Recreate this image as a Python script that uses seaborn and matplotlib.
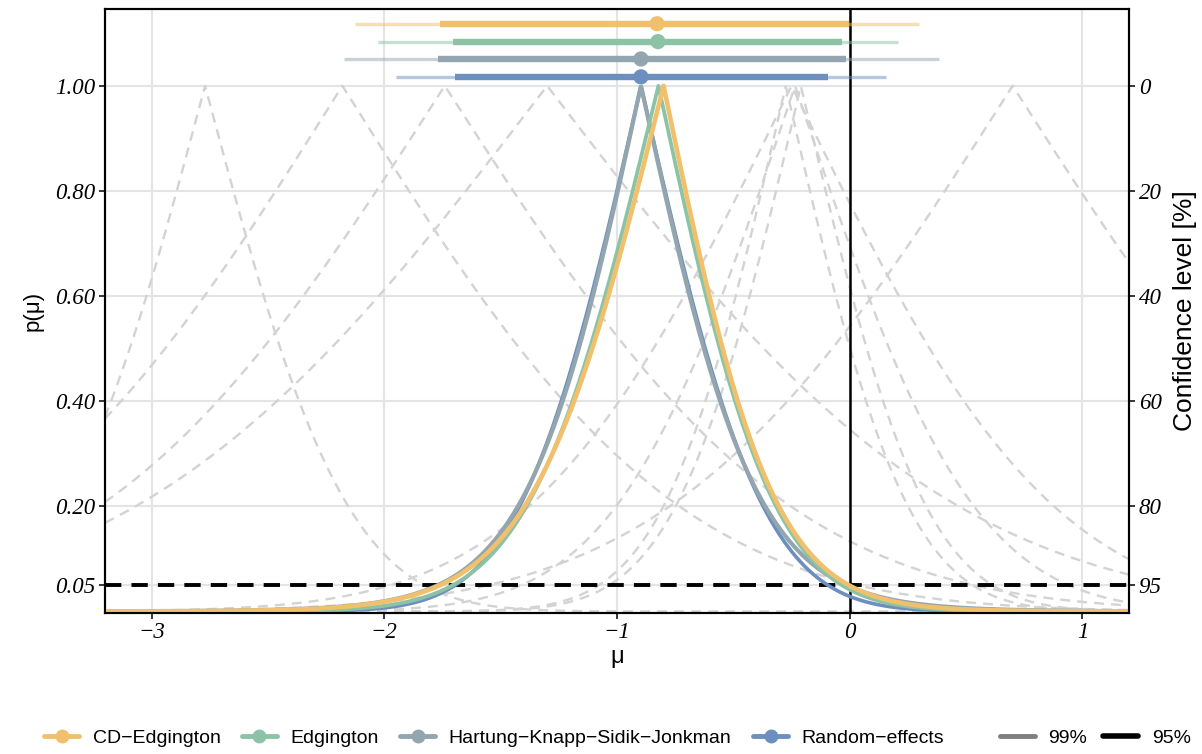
import math
import numpy as np
import pandas as pd
import matplotlib
matplotlib.use("Agg")
import matplotlib.pyplot as plt
import seaborn as sns
from matplotlib.lines import Line2D

# ---------------- data ----------------
# individual studies: point estimate and standard error
study_est = [-2.77, -2.18, -1.74, -1.30, -0.275, -0.25, -0.235, -0.21, 0.70]
study_se = [0.48, 1.13, 1.16, 1.38, 0.41, 0.88, 0.60, 0.42, 1.15]

# combined methods
methods = ["CD\u2212Edgington", "Edgington",
           "Hartung\u2212Knapp\u2212Sidik\u2212Jonkman", "Random\u2212effects"]
peak = [-0.800, -0.822, -0.897, -0.897]       # where p(mu) = 1
point = [-0.828, -0.824, -0.897, -0.897]      # dot on the interval row
lower95 = [-1.760, -1.706, -1.770, -1.695]
upper95 = [-0.004, -0.034, -0.015, -0.094]
lower99 = [-2.124, -2.026, -2.172, -1.948]
upper99 = [0.296, 0.206, 0.382, 0.157]
tail_df = [12, 30, 8, np.inf]
row_p = [1.118, 1.084, 1.051, 1.017]

colors = ["#F1C06D", "#8CC3A6", "#93A5AE", "#6D8FC0"]
curve_lw = [3.3, 2.7, 3.0, 2.6]

conf_levels = [0, 20, 40, 60, 80, 95]
p_ticks = [1.00, 0.80, 0.60, 0.40, 0.20, 0.05]
p_labels = ["1.00", "0.80", "0.60", "0.40", "0.20", "0.05"]
x_ticks = [-3, -2, -1, 0, 1]
x_labels = ["\u22123", "\u22122", "\u22121", "0", "1"]


# ---------------- helpers ----------------
def half_cdf(df):
    g = np.linspace(0, 40, 40001)
    if np.isinf(df):
        pdf = np.exp(-g ** 2 / 2) / np.sqrt(2 * np.pi)
    else:
        c = math.exp(math.lgamma((df + 1) / 2) - math.lgamma(df / 2)) / math.sqrt(df * math.pi)
        pdf = c * (1 + g ** 2 / df) ** (-(df + 1) / 2)
    cum = np.concatenate([[0.0], np.cumsum((pdf[1:] + pdf[:-1]) / 2 * np.diff(g))])
    return g, cum


def pfun(z, df):
    g, cum = half_cdf(df)
    return 1 - 2 * np.interp(np.abs(z), g, cum)


def quant(p, df):
    g, cum = half_cdf(df)
    return np.interp((1 - p) / 2, cum, g)


mu = np.linspace(-3.2, 1.2, 2201)

rows = []
for i, (e, s) in enumerate(zip(study_est, study_se)):
    p = pfun((mu - e) / s, np.inf)
    rows.append(pd.DataFrame({"mu": mu, "p": p, "study": i}))
study_df = pd.DataFrame(pd.concat(rows, ignore_index=True))

comb = []
for m, pk, lo, hi, df in zip(methods, peak, lower95, upper95, tail_df):
    q = quant(0.05, df)
    sl, sr = (pk - lo) / q, (hi - pk) / q
    z = np.where(mu < pk, (mu - pk) / sl, (mu - pk) / sr)
    comb.append(pd.DataFrame({"mu": mu, "p": pfun(z, df), "method": m}))
comb_df = pd.concat(comb, ignore_index=True)

# ---------------- figure ----------------
sns.set_theme(style="white")
plt.rcParams["font.family"] = ["Liberation Sans", "DejaVu Sans"]
plt.rcParams["text.color"] = "black"
plt.rcParams["axes.labelcolor"] = "black"
plt.rcParams["xtick.color"] = "black"
plt.rcParams["ytick.color"] = "black"

W, H = 1202, 754
fig = plt.figure(figsize=(W / 100, H / 100), dpi=100)
left, right, top, bottom = 105, 1129, 8.5, 612.5
ax = fig.add_axes([left / W, 1 - bottom / H, (right - left) / W, (bottom - top) / H])

ylim = (-0.002, 1.147)
ax.set_xlim(-3.2, 1.2)
ax.set_ylim(*ylim)

ax.set_xticks(x_ticks)
ax.set_yticks(p_ticks)
ax.grid(True, color="#E4E4E4", lw=1.5, zorder=0)
ax.set_axisbelow(True)

# study curves
sns.lineplot(data=study_df, x="mu", y="p", units="study", estimator=None,
             color="#D3D3D3", lw=1.7, linestyle=(0, (4.2, 3.0)), ax=ax,
             legend=False, sort=False, zorder=2)

# reference lines
ax.axvline(0, color="black", lw=1.8, zorder=3)
ax.axhline(0.05, color="black", lw=2.8, linestyle=(0, (4.2, 2.6)), zorder=3)

# combined curves (draw in reverse legend order)
for i in [3, 2, 1, 0]:
    sub = comb_df[comb_df["method"] == methods[i]]
    sns.lineplot(data=sub, x="mu", y="p", estimator=None, sort=False,
                 color=colors[i], lw=curve_lw[i], ax=ax, legend=False, zorder=4 + (3 - i))

# interval rows at the top
for i in range(4):
    ax.hlines(row_p[i], lower99[i], upper99[i], color=colors[i], alpha=0.5,
              lw=2.4, zorder=8, capstyle="butt")
    ax.hlines(row_p[i], lower95[i], upper95[i], color=colors[i], lw=4.6,
              zorder=9, capstyle="butt")
dots = pd.DataFrame({"x": point, "y": row_p, "method": methods})
sns.scatterplot(data=dots, x="x", y="y", hue="method", hue_order=methods,
                palette=colors, s=120, edgecolor="none", legend=False, ax=ax, zorder=10)

# axes styling
serif_it = dict(family="Liberation Serif", style="italic", size=16.5, color="black")
ax.set_xticklabels(x_labels, fontdict=serif_it)
ax.set_yticklabels(p_labels, fontdict=serif_it)
ax.set_xlabel("\u03bc", fontsize=17, labelpad=2, color="black")
ax.set_ylabel("p(\u03bc)", fontsize=16, labelpad=8, color="black")
for sp in ax.spines.values():
    sp.set_color("black")
    sp.set_linewidth(1.5)
ax.tick_params(axis="both", which="major", direction="out", length=4, width=1.1,
               color="black", pad=3, bottom=True, left=True, top=False, right=False)

ax2 = ax.twinx()
ax2.set_ylim(*ylim)
ax2.set_yticks(p_ticks)
ax2.set_yticklabels([str(c) for c in conf_levels], fontdict=serif_it)
ax2.set_ylabel("Confidence level [%]", fontsize=19, labelpad=8, color="black")
ax2.grid(False)
for sp in ax2.spines.values():
    sp.set_color("black")
    sp.set_linewidth(1.5)
ax2.tick_params(axis="y", direction="out", length=4, width=1.1, color="black", pad=3, right=True)

# legends
h1 = [Line2D([0], [0], color=c, lw=3.5, marker="o", markersize=9) for c in colors]
leg1 = fig.legend(h1, methods, loc="center left", bbox_to_anchor=(44 / W, 1 - 738 / H),
                  ncol=4, frameon=False, fontsize=14, handlelength=1.8,
                  handletextpad=0.7, columnspacing=1.1, borderpad=0, borderaxespad=0,
                  labelcolor="black")
h2 = [Line2D([0], [0], color="#7F7F7F", lw=3.5), Line2D([0], [0], color="black", lw=4)]
leg2 = fig.legend(h2, ["99%", "95%"], loc="center left", bbox_to_anchor=(1000 / W, 1 - 738 / H),
                  ncol=2, frameon=False, fontsize=14, handlelength=1.8,
                  handletextpad=0.7, columnspacing=0.8, borderpad=0, borderaxespad=0,
                  labelcolor="black")

fig.savefig("out.png", dpi=100)
